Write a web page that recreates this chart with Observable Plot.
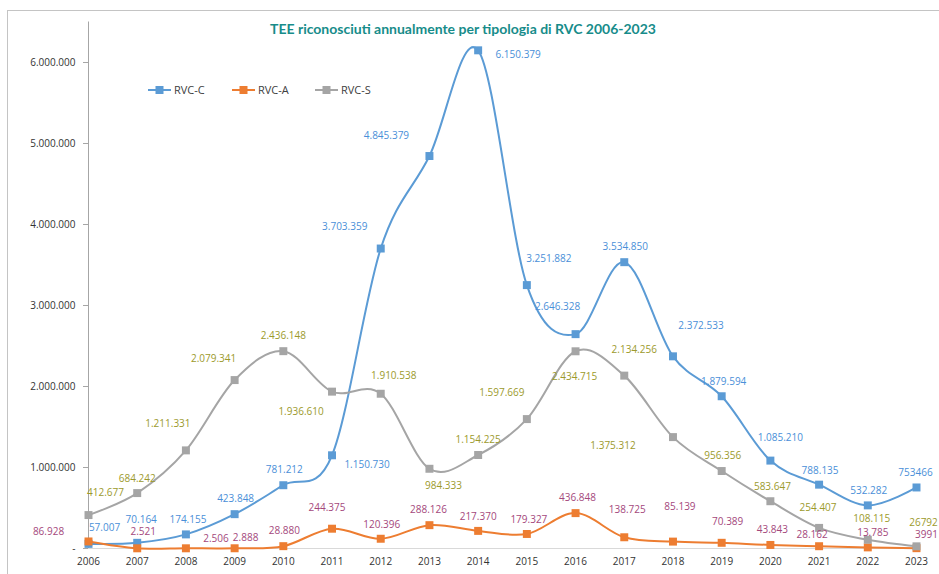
<!DOCTYPE html>
<html>
<head>
<meta charset="utf-8">
<script src="https://cdn.jsdelivr.net/npm/d3@7"></script>
<script src="https://cdn.jsdelivr.net/npm/@observablehq/plot@0.6"></script>
<style>
  html, body { margin: 0; padding: 0; background: #fff; overflow: hidden; }
  #wrap { position: relative; width: 939px; height: 574px; overflow: hidden; font-family: "Open Sans", sans-serif; }
  #border { position: absolute; left: 7px; top: 10px; width: 1200px; height: 1200px; border: 1px solid #c4c4c4; box-sizing: border-box; }
  #chart { position: absolute; left: 0; top: 0; }
  #title { position: absolute; left: 0; width: 926px; top: 20px; text-align: center; font-family: Lato, sans-serif; font-weight: bold; font-size: 14px; color: #178c8a; white-space: nowrap; }
  #legend { position: absolute; left: 148px; top: 82px; display: flex; font-size: 11px; color: #404040; }
  .item { display: flex; align-items: center; margin-right: 0; }
  .item svg { margin-right: 2px; }
</style>
</head>
<body>
<div id="wrap">
  <div id="border"></div>
  <div id="chart"></div>
  <div id="title">TEE riconosciuti annualmente per tipologia di RVC 2006-2023</div>
  <div id="legend"></div>
</div>
<script>
const years = [2006, 2007, 2008, 2009, 2010, 2011, 2012, 2013, 2014, 2015, 2016, 2017, 2018, 2019, 2020, 2021, 2022, 2023];
const seriesNames = ["RVC-C", "RVC-A", "RVC-S"];
const rvcC = [57007, 70164, 174155, 423848, 781212, 1150730, 3703359, 4845379, 6150379, 3251882, 2646328, 3534850, 2372533, 1879594, 1085210, 788135, 532282, 753466];
const rvcA = [86928, 2521, 2506, 2888, 28880, 244375, 120396, 288126, 217370, 179327, 436848, 138725, 85139, 70389, 43843, 28162, 13785, 3991];
const rvcS = [412677, 684242, 1211331, 2079341, 2436148, 1936610, 1910538, 984333, 1154225, 1597669, 2434715, 2134256, 1375312, 956356, 583647, 254407, 108115, 26792];
const yTicks = [0, 1000000, 2000000, 3000000, 4000000, 5000000, 6000000];

// label placement offsets (px) relative to each point
const dxC = [16, 4, 2, 1, 1, 35, -36, -43, 40, 22, -18, 1, 28, 2, 10, 1, 1, -1];
const dyC = [-16, -23, -15, -15, -15, 10, -22, -20, 4, -26, -27, -15, -31, -14, -23, -14, -15, -15];
const dxA = [-40, 6, 30, 11, 1, -5, 1, -1, 0, 2, 2, 3, 7, 6, 2, -7, 5, 10];
const dyA = [-10, -16, -10, -10, -15, -21, -14, -15, -14, -14, -15, -27, -35, -21, -15, -11, -15, -13];
const dxS = [17, 0, -18, -21, 0, -31, 13, 14, 0, -25, -1, 10, -60, 1, 2, -1, 4, 7];
const dyS = [-22, -14, -27, -21, -15, 20, -18, 17, -15, -26, 26, -26, 9, -15, -14, -20, -21, -24];

const lineColors = {"RVC-C": "#5b9bd5", "RVC-A": "#ed7d31", "RVC-S": "#a5a5a5"};
const labelColors = {"RVC-C": "#4a8fd8", "RVC-A": "#a4487c", "RVC-S": "#9c9a2c"};

const loc = d3.formatLocale({decimal: ",", thousands: ".", grouping: [3], currency: ["", "€"]});
const grp = loc.format(",");
const fmtLabel = (v, year) => year === 2023 ? String(v) : grp(v);
const fmtTick = v => v === 0 ? "-" : grp(v);

const seriesValues = {"RVC-C": rvcC, "RVC-A": rvcA, "RVC-S": rvcS};
const offsets = {"RVC-C": [dxC, dyC], "RVC-A": [dxA, dyA], "RVC-S": [dxS, dyS]};

const rows = [];
for (const s of seriesNames) {
  seriesValues[s].forEach((v, i) => rows.push({series: s, year: years[i], value: v, i}));
}

const marks = [
  Plot.ruleY([0], {stroke: "#d9d9d9", strokeWidth: 1}),
  Plot.ruleX([years[0]], {x: d => d, stroke: "#a6a6a6", strokeWidth: 1}),
  Plot.axisY({ticks: yTicks, tickSize: 5, tickPadding: 8, tickFormat: fmtTick, stroke: "#a6a6a6", fill: "#333", label: null}),
  Plot.axisX({tickSize: 0, tickPadding: 9, fill: "#333", label: null, tickFormat: d => String(d)})
];

for (const s of seriesNames) {
  const data = rows.filter(r => r.series === s);
  marks.push(Plot.line(data, {x: "year", y: "value", stroke: lineColors[s], strokeWidth: 2, curve: "cardinal", tension: 0}));
  marks.push(Plot.dot(data, {x: "year", y: "value", symbol: "square", r: 4.5, fill: lineColors[s], stroke: "none"}));
}
for (const s of seriesNames) {
  const data = rows.filter(r => r.series === s);
  const [dxs, dys] = offsets[s];
  for (const r of data) {
    marks.push(Plot.text([r], {x: "year", y: "value", text: d => fmtLabel(d.value, d.year), dx: dxs[r.i], dy: dys[r.i], fill: labelColors[s], textAnchor: "middle"}));
  }
}

const chart = Plot.plot({
  width: 939,
  height: 574,
  marginLeft: 88,
  marginRight: 23,
  marginTop: 21.5,
  marginBottom: 26,
  x: {type: "point", domain: years, padding: 0, round: false},
  y: {domain: [0, 6500000]},
  style: {fontFamily: "'Open Sans', sans-serif", fontSize: "10px", background: "transparent", overflow: "visible"},
  marks
});
document.getElementById("chart").appendChild(chart);

const legend = document.getElementById("legend");
seriesNames.forEach((s, k) => {
  const item = document.createElement("div");
  item.className = "item";
  item.style.width = k === 2 ? "auto" : (k === 0 ? "84px" : "83px");
  item.innerHTML = `<svg width="24" height="12"><line x1="0" y1="6" x2="23" y2="6" stroke="${lineColors[s]}" stroke-width="2"/><rect x="7.5" y="2" width="8" height="8" fill="${lineColors[s]}"/></svg><span>${s}</span>`;
  legend.appendChild(item);
});
</script>
</body>
</html>
